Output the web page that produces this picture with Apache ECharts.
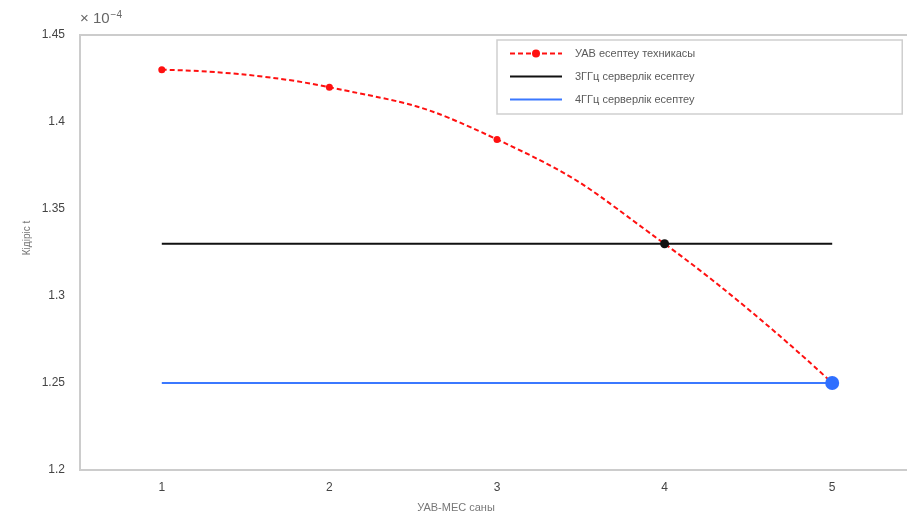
<!DOCTYPE html>
<html>
<head>
<meta charset="utf-8">
<script src="https://cdn.jsdelivr.net/npm/echarts@6/dist/echarts.min.js"></script>
<style>
  html, body { margin: 0; padding: 0; background: #fff; }
  #chart { width: 907px; height: 518px; }
</style>
</head>
<body>
<div id="chart"></div>
<script>
// Delay values are in units of 1e-4 (see the "× 10^-4" note above the y axis)
const uavCounts = [1, 2, 3, 4, 5];
const uavDelay = [1.43, 1.42, 1.39, 1.33, 1.25];
const server3GHz = [1.33, 1.33, 1.33, 1.33, 1.33];
const server4GHz = [1.25, 1.25, 1.25, 1.25, 1.25];
const yTicks = [1.2, 1.25, 1.3, 1.35, 1.4, 1.45];
const seriesNames = ['УАВ есептеу техникасы', '3ГГц серверлік есептеу', '4ГГц серверлік есептеу'];

const font = 'Liberation Sans, Arial, sans-serif';
const pair = (xs, ys) => xs.map((x, i) => [x, ys[i]]);

const chart = echarts.init(document.getElementById('chart'), null, { renderer: 'canvas' });
chart.setOption({
  animation: false,
  backgroundColor: '#fff',
  // the plot area runs a little past the right edge of the canvas
  grid: { left: 78, top: 35, width: 838, height: 435, containLabel: false, outerBoundsMode: 'none' },
  xAxis: {
    type: 'value', min: 0.5, max: 5.5, interval: 0.5,
    axisLine: { show: false },
    axisTick: { show: false },
    splitLine: { show: false },
    axisLabel: {
      color: '#444', fontSize: 12, fontFamily: font, margin: 12,
      formatter: v => (Number.isInteger(v) ? String(v) : '')
    }
  },
  yAxis: {
    type: 'value', min: 1.2, max: 1.45, interval: 0.05,
    axisLine: { show: false },
    axisTick: { show: false },
    splitLine: { show: false },
    axisLabel: {
      color: '#444', fontSize: 12, fontFamily: font, margin: 13,
      formatter: v => {
        const hit = yTicks.find(t => Math.abs(t - v) < 1e-9);
        return hit === undefined ? '' : String(+hit.toFixed(2));
      }
    }
  },
  legend: {
    orient: 'vertical',
    left: 497, top: 40,
    padding: [8, 207, 9, 12],
    itemGap: 12,
    itemWidth: 52, itemHeight: 10,
    borderColor: '#cfcfcf', borderWidth: 1.5,
    textStyle: { color: '#5a5a5a', fontSize: 11, fontFamily: font, padding: [0, 0, 0, 8] },
    data: [
      { name: seriesNames[0] },
      { name: seriesNames[1], itemStyle: { opacity: 0 } },
      { name: seriesNames[2], itemStyle: { opacity: 0 } }
    ]
  },
  graphic: [
    // plot frame
    { type: 'rect', shape: { x: 80, y: 35, width: 850, height: 435 },
      style: { fill: null, stroke: '#cccccc', lineWidth: 2 }, z: 0 },
    { type: 'text', left: 80, top: 10,
      style: { text: '× 10{s|−4}', fill: '#666', font: '15px ' + font,
        rich: { s: { fontSize: 10, verticalAlign: 'top', fill: '#666', padding: [0, 0, 8, 1] } } } },
    { type: 'text', x: 27, y: 238, rotation: Math.PI / 2, originX: 0, originY: 0,
      style: { text: 'Кідіріс t', fill: '#777', font: '10px ' + font, align: 'center', verticalAlign: 'middle' } },
    { type: 'text', x: 456, y: 508,
      style: { text: 'УАВ-МЕС саны', fill: '#777', font: '11px ' + font, align: 'center', verticalAlign: 'middle' } }
  ],
  series: [
    {
      name: seriesNames[1], type: 'line', data: pair(uavCounts, server3GHz),
      symbol: 'none', lineStyle: { color: '#111', width: 2 }, itemStyle: { color: '#111' }, z: 2
    },
    {
      name: seriesNames[2], type: 'line', data: pair(uavCounts, server4GHz),
      symbol: 'none', lineStyle: { color: '#3b78ff', width: 2 }, itemStyle: { color: '#3b78ff' }, z: 2
    },
    {
      name: seriesNames[0], type: 'line', data: pair(uavCounts, uavDelay),
      smooth: 0.5,
      symbol: 'circle', symbolSize: 7,
      lineStyle: { color: '#ff1010', width: 2, type: [5, 3] },
      itemStyle: { color: '#ff1010' }, z: 3
    },
    {
      // crossing with the 3 GHz server line
      type: 'scatter', data: [[uavCounts[3], server3GHz[3]]],
      symbolSize: 9, itemStyle: { color: '#111', opacity: 1 }, z: 10, silent: true
    },
    {
      // crossing with the 4 GHz server line
      type: 'scatter', data: [[uavCounts[4], server4GHz[4]]],
      symbolSize: 14, itemStyle: { color: '#2f6fff', opacity: 1 }, z: 10, silent: true
    }
  ]
});
</script>
</body>
</html>
